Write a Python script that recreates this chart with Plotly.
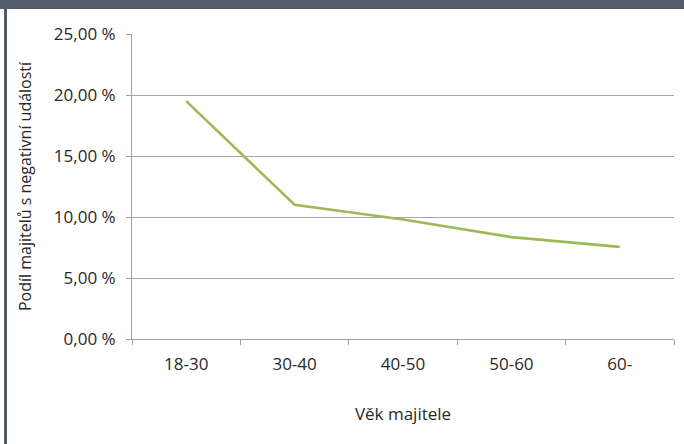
import plotly.graph_objects as go

categories = ["18-30", "30-40", "40-50", "50-60", "60-"]
values = [19.5, 11.0, 9.8, 8.35, 7.55]
y_ticks = [0, 5, 10, 15, 20, 25]
y_tick_labels = ["0,00 %", "5,00 %", "10,00 %", "15,00 %", "20,00 %", "25,00 %"]
x_title = "Věk majitele"
y_title = "Podíl majitelů s negativní událostí"

L, R, T, B = 132, 10, 34, 105
W, H = 684, 444
pw, ph = W - L - R, H - T - B

def px(x):
    return (x - L) / pw

def py(y):
    return (H - B - y) / ph

font_family = "Open Sans, sans-serif"
text_color = "#282828"

fig = go.Figure()
fig.add_trace(go.Scatter(
    x=categories, y=values, mode="lines",
    line=dict(color="#9bbb59", width=2.6),
    hoverinfo="skip", showlegend=False,
))

fig.update_layout(
    width=W, height=H,
    margin=dict(l=L, r=R, t=T, b=B, pad=0, autoexpand=False),
    paper_bgcolor="white", plot_bgcolor="white",
    font=dict(family=font_family, size=16, color=text_color),
    xaxis=dict(
        type="category", range=[-0.5, 4.5], automargin=False,
        showline=True, linecolor="#a0a0a0", linewidth=1,
        ticks="outside", tickson="boundaries", ticklen=5, tickcolor="#a0a0a0",
        showgrid=False, zeroline=False,
        title=dict(text=x_title, standoff=33, font=dict(size=17)),
        tickfont=dict(size=17), ticklabelstandoff=10,
    ),
    yaxis=dict(
        range=[0, 25], tickvals=y_ticks, ticktext=y_tick_labels, automargin=False,
        showline=True, linecolor="#a0a0a0", linewidth=1,
        ticks="outside", ticklen=5, tickcolor="#a0a0a0",
        showgrid=True, gridcolor="#a6a6a6", gridwidth=1,
        zeroline=False,
        title=dict(text=y_title, standoff=18, font=dict(size=16)),
        tickfont=dict(size=17), ticklabelstandoff=7,
    ),
    shapes=[
        dict(type="rect", xref="paper", yref="paper",
             x0=px(-5), x1=px(W + 5), y0=py(9), y1=py(-5),
             fillcolor="#535a68", line=dict(width=0), layer="above"),
        dict(type="rect", xref="paper", yref="paper",
             x0=px(4), x1=px(7), y0=py(H + 5), y1=py(9),
             fillcolor="#535a68", line=dict(width=0), layer="above"),
    ],
)

fig.write_html(
    "out.html",
    config={"displayModeBar": False},
    post_script="document.body.style.margin='0';document.body.style.overflow='hidden';",
)
